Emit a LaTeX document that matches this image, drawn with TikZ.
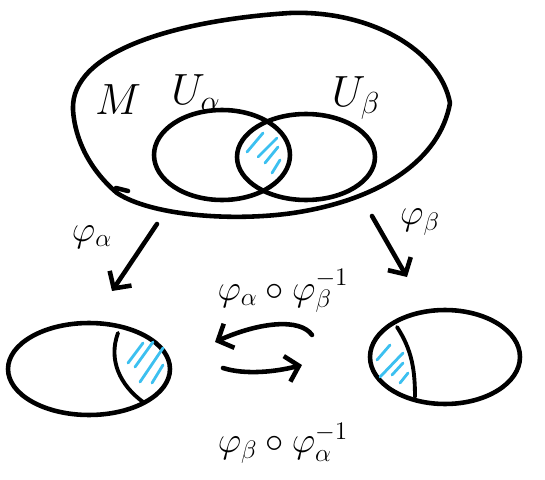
\documentclass[tikz,border=0pt]{standalone}
\usetikzlibrary{arrows.meta,shapes.geometric}
\definecolor{hatch}{HTML}{3CC0F0}
\begin{document}
\begin{tikzpicture}[x=0.02cm,y=-0.02cm,
  ink/.style={line width=2.6pt, line cap=round, line join=round},
  chart/.style={ellipse, draw, ink, inner sep=0pt},
  hatchline/.style={draw=hatch, line width=1.6pt, line cap=round},
  arr/.style={ink, -{Straight Barb[length=7pt,width=15pt]}},
  lbl/.style={font=\fontsize{24}{28}\selectfont, inner sep=0pt},
  slbl/.style={font=\fontsize{22}{26}\selectfont, inner sep=0pt}]
\useasboundingbox (0,0) rectangle (545,480);

% the manifold M
\draw[ink] (73,110) .. controls (70,50) and (180,20) .. (290,13)
  .. controls (370,10) and (440,50) .. (450,103)
  .. controls (440,160) and (380,200) .. (293,213)
  .. controls (230,222) and (150,215) .. (117,193)
  .. controls (90,170) and (75,140) .. cycle;
\draw[ink] (116,188) -- (128,191);
\node[lbl] (M) at (118,100) {$M$};

% the two charts' domains
\node[chart, minimum width=2.72cm, minimum height=1.8cm] (Ua) at (222,155) {};
\node[chart, minimum width=2.76cm, minimum height=1.72cm] (Ub) at (306,157) {};
\node[lbl] (UaL) at (196,93) {$U_\alpha$};
\node[lbl] (UbL) at (356,98) {$U_\beta$};

% overlap hatching
\draw[hatchline] (247,152) -- (263,133);
\draw[hatchline] (258,157) -- (277,138);
\draw[hatchline] (265,163) -- (278,147);
\draw[hatchline] (272,173) -- (280,160);

% images in R^n
\node[chart, minimum width=3.24cm, minimum height=1.84cm] (Va) at (89,369) {};
\node[chart, minimum width=3.0cm, minimum height=1.88cm] (Vb) at (445,357) {};
\coordinate (ca1) at (118,333);
\coordinate (ca2) at (143,402);
\draw[ink, line width=2.2pt] (ca1) .. controls (108,360) and (120,385) .. (ca2);
\coordinate (cb1) at (397,327);
\coordinate (cb2) at (415,397);
\draw[ink, line width=2.2pt] (cb1) .. controls (412,350) and (415,370) .. (cb2);

\draw[hatchline] (128,363) -- (143,343);
\draw[hatchline] (135,367) -- (153,342);
\draw[hatchline] (140,382) -- (163,348);
\draw[hatchline] (152,383) -- (163,365);

\draw[hatchline] (377,360) -- (390,345);
\draw[hatchline] (380,377) -- (403,353);
\draw[hatchline] (392,375) -- (403,363);
\draw[hatchline] (400,383) -- (408,373);

% chart maps
\coordinate (pa1) at (157,224);
\coordinate (pa2) at (112,291);
\draw[arr] (pa1) -- (pa2);
\node[slbl] (phia) at (92,237) {$\varphi_\alpha$};

\coordinate (pb1) at (372,216);
\coordinate (pb2) at (407,277);
\draw[arr] (pb1) -- (pb2);
\node[slbl] (phib) at (420,222) {$\varphi_\beta$};

% transition maps
\coordinate (t1) at (312,335);
\coordinate (t2) at (215,342);
\draw[arr] (t1) .. controls (300,318) and (260,322) .. (t2);
\coordinate (s1) at (223,368);
\coordinate (s2) at (302,365);
\draw[arr] (s1) .. controls (245,375) and (275,372) .. (s2);

\node[slbl] (tab) at (283,291) {$\varphi_\alpha\circ\varphi_\beta^{-1}$};
\node[slbl] (tba) at (283,443) {$\varphi_\beta\circ\varphi_\alpha^{-1}$};
\end{tikzpicture}
\end{document}
